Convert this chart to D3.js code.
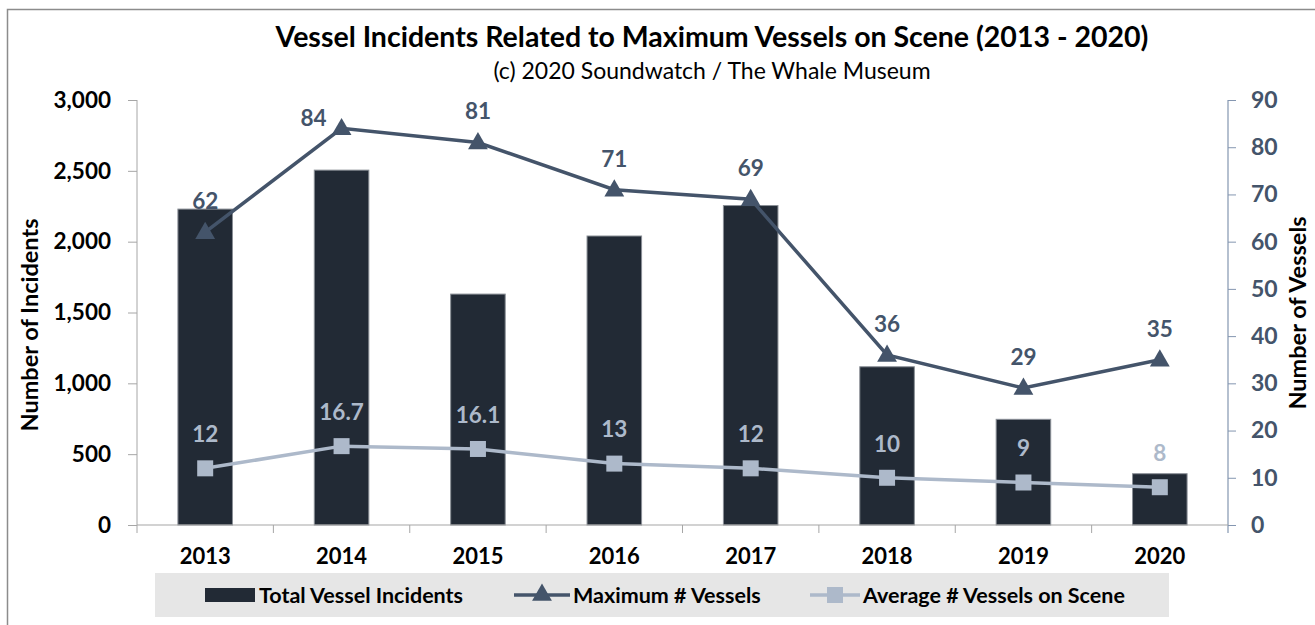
<!DOCTYPE html>
<html>
<head>
<meta charset="utf-8">
<script src="https://cdn.jsdelivr.net/npm/d3@7"></script>
<style>
  html, body { margin: 0; padding: 0; background: #fff; }
  svg { display: block; font-family: Lato, "Open Sans", sans-serif; }
</style>
</head>
<body>
<svg id="chart" width="1315" height="625"></svg>
<script>
// Soundwatch vessel incident counts and vessel numbers, 2013-2020
const years = ["2013", "2014", "2015", "2016", "2017", "2018", "2019", "2020"];
const totalIncidents = [2230, 2505, 1630, 2040, 2255, 1117, 746, 362];
const maxVessels = [62, 84, 81, 71, 69, 36, 29, 35];
const avgVessels = [12, 16.7, 16.1, 13, 12, 10, 9, 8];
const leftTicks = [0, 500, 1000, 1500, 2000, 2500, 3000];
const rightTicks = [0, 10, 20, 30, 40, 50, 60, 70, 80, 90];

const C = {
  bar: "#222a35",
  maxLine: "#44546a",
  avgLine: "#adb9ca",
  axis: "#a6a6a6",
  legendBg: "#e6e6e6"
};

const svg = d3.select("#chart");
const plot = { left: 137, right: 1228, top: 100, bottom: 525 };

// outer frame
svg.append("rect")
  .attr("x", 7.5).attr("y", 9.5)
  .attr("width", 1400).attr("height", 700)
  .attr("fill", "none").attr("stroke", "#8c8c8c").attr("stroke-width", 1.5);

// titles
svg.append("text")
  .attr("x", 712).attr("y", 47)
  .attr("text-anchor", "middle")
  .attr("font-size", 28.5).attr("font-weight", 700).attr("fill", "#000")
  .text("Vessel Incidents Related to Maximum Vessels on Scene (2013 - 2020)");
svg.append("text")
  .attr("x", 712).attr("y", 79)
  .attr("text-anchor", "middle")
  .attr("font-size", 23).attr("fill", "#000")
  .text("(c) 2020 Soundwatch / The Whale Museum");

// scales
const x = d3.scaleBand().domain(years)
  .range([plot.left, plot.right]).paddingInner(0.6).paddingOuter(0.3);
const yL = d3.scaleLinear().domain([0, 3000]).range([plot.bottom, plot.top]);
const yR = d3.scaleLinear().domain([0, 90]).range([plot.bottom, plot.top]);
const cx = d => x(d) + x.bandwidth() / 2;

// bars
svg.append("g").selectAll("rect")
  .data(years)
  .join("rect")
  .attr("x", d => x(d))
  .attr("y", (d, i) => yL(totalIncidents[i]))
  .attr("width", x.bandwidth())
  .attr("height", (d, i) => yL(0) - yL(totalIncidents[i]))
  .attr("fill", C.bar)
  .attr("stroke", "#8a8f96").attr("stroke-width", 1);

// left axis
const gL = svg.append("g").attr("transform", `translate(${plot.left},0)`)
  .call(d3.axisLeft(yL).tickValues(leftTicks).tickSize(9).tickPadding(17)
    .tickFormat(d3.format(",")));
gL.select(".domain").remove();
gL.selectAll(".tick line").attr("stroke", C.axis);
gL.selectAll(".tick text").attr("font-size", 22.5).attr("font-weight", 700)
  .attr("fill", "#000").attr("font-family", "Lato, sans-serif");
svg.append("line")
  .attr("x1", plot.left).attr("x2", plot.left)
  .attr("y1", plot.top).attr("y2", plot.bottom + 8)
  .attr("stroke", C.axis).attr("stroke-width", 1);

// right axis
const gR = svg.append("g").attr("transform", `translate(${plot.right},0)`)
  .call(d3.axisRight(yR).tickValues(rightTicks).tickSize(8).tickPadding(15));
gR.select(".domain").remove();
gR.selectAll(".tick line").attr("stroke", "#8496b0");
gR.selectAll(".tick text").attr("font-size", 23).attr("font-weight", 700)
  .attr("fill", C.maxLine).attr("font-family", "Lato, sans-serif");
svg.append("line")
  .attr("x1", plot.right).attr("x2", plot.right)
  .attr("y1", plot.top).attr("y2", plot.bottom + 8)
  .attr("stroke", "#8496b0").attr("stroke-width", 1.2);

// x axis: baseline, boundary ticks and year labels
svg.append("line")
  .attr("x1", plot.left).attr("x2", plot.right)
  .attr("y1", plot.bottom).attr("y2", plot.bottom)
  .attr("stroke", C.axis).attr("stroke-width", 1.2);
const step = x.step();
svg.append("g").selectAll("line")
  .data(years.slice(1))
  .join("line")
  .attr("x1", d => x(d) - x.paddingInner() * step / 2)
  .attr("x2", d => x(d) - x.paddingInner() * step / 2)
  .attr("y1", plot.bottom).attr("y2", plot.bottom + 8)
  .attr("stroke", C.axis);
svg.append("g").selectAll("text")
  .data(years)
  .join("text")
  .attr("x", d => cx(d)).attr("y", 564)
  .attr("text-anchor", "middle")
  .attr("font-size", 22).attr("font-weight", 700).attr("fill", "#000")
  .text(d => d);

// axis titles
svg.append("text")
  .attr("transform", "translate(38,325) rotate(-90)")
  .attr("text-anchor", "middle")
  .attr("font-size", 23.5).attr("font-weight", 700).attr("fill", "#000")
  .text("Number of Incidents");
svg.append("text")
  .attr("transform", "translate(1306,313) rotate(-90)")
  .attr("text-anchor", "middle")
  .attr("font-size", 23.5).attr("font-weight", 700).attr("fill", "#000")
  .text("Number of Vessels");

// average vessels line
const lineAvg = d3.line().x((d, i) => cx(years[i])).y(d => yR(d));
svg.append("path").datum(avgVessels)
  .attr("d", lineAvg).attr("fill", "none")
  .attr("stroke", C.avgLine).attr("stroke-width", 3.5);
svg.append("g").selectAll("rect")
  .data(avgVessels)
  .join("rect")
  .attr("x", (d, i) => cx(years[i]) - 8)
  .attr("y", d => yR(d) - 8)
  .attr("width", 16).attr("height", 16)
  .attr("fill", C.avgLine);
svg.append("g").selectAll("text")
  .data(avgVessels)
  .join("text")
  .attr("x", (d, i) => cx(years[i]))
  .attr("y", d => yR(d) - 34)
  .attr("dy", "0.35em")
  .attr("text-anchor", "middle")
  .attr("font-size", 22.5).attr("font-weight", 700).attr("fill", C.avgLine)
  .text(d => d);

// maximum vessels line
const lineMax = d3.line().x((d, i) => cx(years[i])).y(d => yR(d));
svg.append("path").datum(maxVessels)
  .attr("d", lineMax).attr("fill", "none")
  .attr("stroke", C.maxLine).attr("stroke-width", 3.5);
const tri = d3.symbol().type(d3.symbolTriangle).size(170);
svg.append("g").selectAll("path")
  .data(maxVessels)
  .join("path")
  .attr("transform", (d, i) => `translate(${cx(years[i])},${yR(d) + 1})`)
  .attr("d", tri)
  .attr("fill", C.maxLine);
svg.append("g").selectAll("text")
  .data(maxVessels)
  .join("text")
  .attr("x", (d, i) => {
    const up = yR(d) - 31;
    return up < plot.top + 10 ? cx(years[i]) - 28 : cx(years[i]);
  })
  .attr("y", d => {
    const up = yR(d) - 31;
    return up < plot.top + 10 ? yR(d) - 10 : up;
  })
  .attr("dy", "0.35em")
  .attr("text-anchor", "middle")
  .attr("font-size", 22.5).attr("font-weight", 700).attr("fill", C.maxLine)
  .text(d => d);

// legend
const lg = svg.append("g");
lg.append("rect")
  .attr("x", 155).attr("y", 573).attr("width", 1014).attr("height", 44)
  .attr("fill", C.legendBg);
lg.append("rect")
  .attr("x", 205).attr("y", 588).attr("width", 50).attr("height", 14)
  .attr("fill", C.bar);
lg.append("line")
  .attr("x1", 514).attr("x2", 570).attr("y1", 595).attr("y2", 595)
  .attr("stroke", C.maxLine).attr("stroke-width", 3.5);
lg.append("path")
  .attr("transform", "translate(542,595)")
  .attr("d", tri).attr("fill", C.maxLine);
lg.append("line")
  .attr("x1", 810).attr("x2", 860).attr("y1", 595).attr("y2", 595)
  .attr("stroke", C.avgLine).attr("stroke-width", 3.5);
lg.append("rect")
  .attr("x", 827).attr("y", 587).attr("width", 16).attr("height", 16)
  .attr("fill", C.avgLine);
const legendItems = [
  { label: "Total Vessel Incidents", x: 259 },
  { label: "Maximum # Vessels", x: 573 },
  { label: "Average # Vessels on Scene", x: 863 }
];
lg.selectAll("text.lab")
  .data(legendItems)
  .join("text")
  .attr("class", "lab")
  .attr("x", d => d.x).attr("y", 595)
  .attr("dy", "0.35em")
  .attr("font-size", 21.5).attr("font-weight", 700).attr("fill", "#000")
  .text(d => d.label);
</script>
</body>
</html>
